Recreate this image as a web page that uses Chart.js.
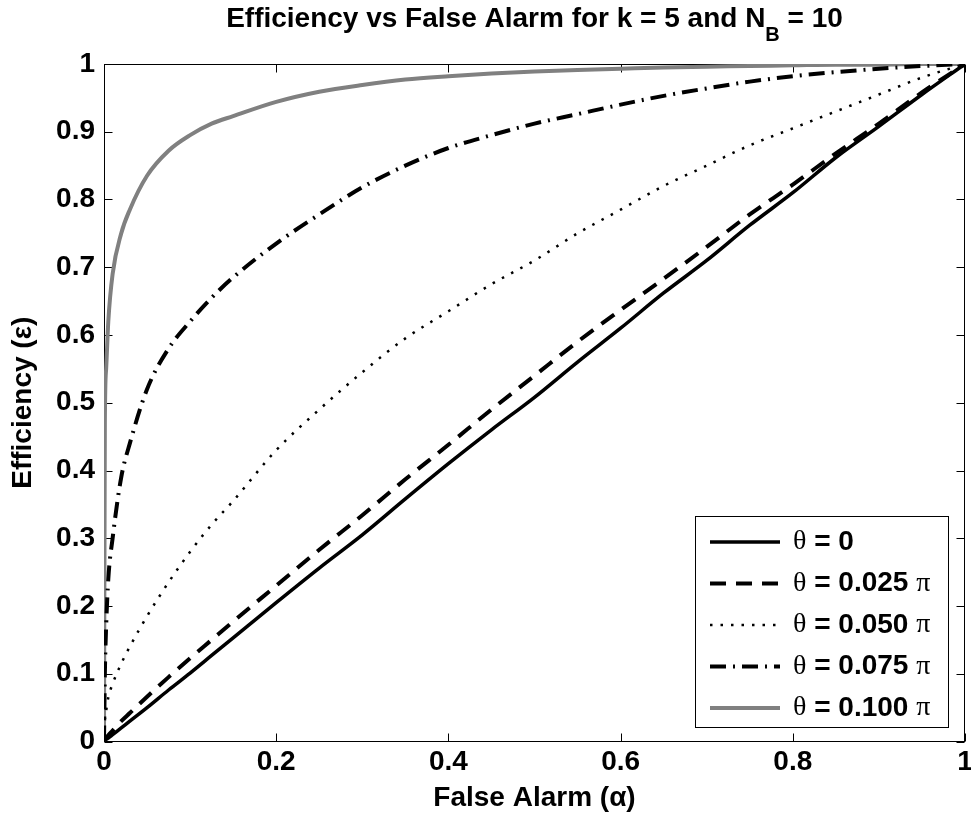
<!DOCTYPE html>
<html>
<head>
<meta charset="utf-8">
<script src="https://cdn.jsdelivr.net/npm/chart.js@4.4.0/dist/chart.umd.min.js"></script>
<style>
  body { margin: 0; background: #fff; }
</style>
</head>
<body>
<canvas id="effChart" width="971" height="820"></canvas>
<script>
// false alarm values (x) shared by every curve
var alpha = [0, 0.001, 0.0025, 0.005, 0.01, 0.02, 0.03, 0.05, 0.075, 0.1, 0.125, 0.15, 0.2, 0.25, 0.3,
  0.35, 0.4, 0.45, 0.5, 0.55, 0.6, 0.65, 0.7, 0.75, 0.8, 0.85, 0.9, 0.95, 1];

// efficiency, one list per theta
var effTheta000 = [0, 0.001, 0.003, 0.005, 0.01, 0.02, 0.03, 0.05, 0.076, 0.101, 0.127, 0.153, 0.205, 0.256, 0.305,
  0.358, 0.41, 0.46, 0.508, 0.56, 0.61, 0.662, 0.71, 0.762, 0.81, 0.862, 0.908, 0.955, 1];
var effTheta025 = [0, 0.002, 0.005, 0.009, 0.016, 0.03, 0.042, 0.066, 0.095, 0.123, 0.15, 0.177, 0.23, 0.283, 0.334,
  0.387, 0.438, 0.49, 0.54, 0.59, 0.637, 0.683, 0.73, 0.778, 0.822, 0.868, 0.912, 0.958, 1];
var effTheta050 = [0, 0.03, 0.045, 0.065, 0.085, 0.115, 0.14, 0.185, 0.235, 0.28, 0.32, 0.355, 0.43, 0.49, 0.545,
  0.595, 0.635, 0.675, 0.71, 0.75, 0.785, 0.82, 0.85, 0.88, 0.905, 0.93, 0.955, 0.98, 1];
var effTheta075 = [0, 0.1, 0.17, 0.24, 0.3, 0.39, 0.44, 0.52, 0.58, 0.62, 0.655, 0.685, 0.735, 0.778, 0.818,
  0.85, 0.876, 0.895, 0.912, 0.926, 0.94, 0.953, 0.964, 0.974, 0.982, 0.988, 0.993, 0.997, 1];
var effTheta100 = [0, 0.47, 0.55, 0.62, 0.69, 0.75, 0.785, 0.835, 0.872, 0.895, 0.912, 0.923, 0.944, 0.959, 0.969,
  0.977, 0.982, 0.986, 0.989, 0.991, 0.993, 0.995, 0.996, 0.997, 0.998, 0.999, 0.999, 1, 1];

var seriesNames = ['0', '0.025 \u03c0', '0.050 \u03c0', '0.075 \u03c0', '0.100 \u03c0'];

var FONT = '"Liberation Sans", Arial, sans-serif';

function toPoints(ys) {
  return alpha.map(function (a, i) { return { x: a, y: ys[i] }; });
}

function lineSet(label, ys, color, width, dash) {
  return {
    label: label,
    data: toPoints(ys),
    borderColor: color,
    borderWidth: width,
    borderDash: dash,
    pointRadius: 0,
    fill: false,
    showLine: true,
    cubicInterpolationMode: 'monotone'
  };
}

// "0", "0.2", ... "1" like matlab prints them
function tickText(v) {
  return String(parseFloat(Number(v).toFixed(1)));
}

// box + inward ticks on all four sides, like the original plot
var frame = {
  id: 'frame',
  beforeDatasetsDraw: function (chart) {
    var ctx = chart.ctx, a = chart.chartArea;
    var xs = chart.scales.x, ys = chart.scales.y;
    var L = Math.round(a.left) + 0.5, R = Math.round(a.right) - 0.5;
    var T = Math.round(a.top) + 0.5, B = Math.round(a.bottom) - 0.5;
    ctx.save();
    ctx.strokeStyle = '#000';
    ctx.lineWidth = 1;
    ctx.strokeRect(L, T, R - L, B - T);
    ctx.beginPath();
    xs.ticks.forEach(function (t) {
      var p = Math.round(xs.getPixelForValue(t.value)) + 0.5;
      ctx.moveTo(p, B); ctx.lineTo(p, B - 8);
      ctx.moveTo(p, T); ctx.lineTo(p, T + 8);
    });
    ys.ticks.forEach(function (t) {
      var p = Math.round(ys.getPixelForValue(t.value)) + 0.5;
      ctx.moveTo(L, p); ctx.lineTo(L + 8, p);
      ctx.moveTo(R, p); ctx.lineTo(R - 8, p);
    });
    ctx.stroke();
    ctx.restore();
  }
};

// title with subscript B
var titleSub = {
  id: 'titleSub',
  afterDraw: function (chart) {
    var ctx = chart.ctx, a = chart.chartArea;
    var p1 = 'Efficiency vs False Alarm for k = 5 and N', sub = 'B', p2 = ' = 10';
    ctx.save();
    ctx.fillStyle = '#000';
    ctx.textBaseline = 'alphabetic';
    ctx.font = 'bold 28px ' + FONT;
    var w1 = ctx.measureText(p1).width, w3 = ctx.measureText(p2).width;
    ctx.font = 'bold 20px ' + FONT;
    var w2 = ctx.measureText(sub).width;
    var x = (a.left + a.right) / 2 - (w1 + w2 + w3) / 2;
    ctx.font = 'bold 28px ' + FONT;
    ctx.fillText(p1, x, 27);
    ctx.font = 'bold 20px ' + FONT;
    ctx.fillText(sub, x + w1, 41);
    ctx.font = 'bold 28px ' + FONT;
    ctx.fillText(p2, x + w1 + w2, 27);
    ctx.restore();
  }
};

// legend box in the lower right corner
var boxLegend = {
  id: 'boxLegend',
  afterDraw: function (chart) {
    var ctx = chart.ctx;
    var bx = 695, by = 516, bw = 253, bh = 211;
    ctx.save();
    ctx.fillStyle = '#fff';
    ctx.fillRect(bx, by, bw, bh);
    ctx.strokeStyle = '#000';
    ctx.lineWidth = 1;
    ctx.strokeRect(bx + 0.5, by + 0.5, bw, bh);
    chart.data.datasets.forEach(function (ds, i) {
      var y = by + 26 + i * 41.5;
      ctx.beginPath();
      ctx.strokeStyle = ds.borderColor;
      ctx.lineWidth = ds.borderWidth;
      ctx.setLineDash(ds.borderDash || []);
      ctx.moveTo(710, y);
      ctx.lineTo(780, y);
      ctx.stroke();
      ctx.setLineDash([]);
      ctx.fillStyle = '#000';
      ctx.textBaseline = 'middle';
      var x = 793;
      ctx.font = '28px "Liberation Serif", serif';
      ctx.fillText('\u03b8', x, y);
      x += ctx.measureText('\u03b8').width;
      var rest = ' = ' + seriesNames[i];
      var hasPi = rest.indexOf('\u03c0') >= 0;
      var txt = hasPi ? rest.replace(' \u03c0', ' ') : rest;
      ctx.font = 'bold 28px ' + FONT;
      ctx.fillText(txt, x, y);
      if (hasPi) {
        x += ctx.measureText(txt).width;
        ctx.font = '28px "Liberation Serif", serif';
        ctx.fillText('\u03c0', x, y);
      }
    });
    ctx.restore();
  }
};

var ctx = document.getElementById('effChart').getContext('2d');
var effChart = new Chart(ctx, {
  type: 'scatter',
  data: {
    datasets: [
      lineSet('\u03b8 = 0', effTheta000, '#000000', 3.5, []),
      lineSet('\u03b8 = 0.025 \u03c0', effTheta025, '#000000', 4, [16, 10]),
      lineSet('\u03b8 = 0.050 \u03c0', effTheta050, '#000000', 2.5, [2.5, 8]),
      lineSet('\u03b8 = 0.075 \u03c0', effTheta075, '#000000', 4, [16, 7, 2, 7]),
      lineSet('\u03b8 = 0.100 \u03c0', effTheta100, '#808080', 4, [])
    ]
  },
  options: {
    responsive: false,
    animation: false,
    devicePixelRatio: 1,
    layout: { padding: { top: 64, right: 0, bottom: 0, left: 0 } },
    plugins: {
      legend: { display: false },
      title: { display: false },
      tooltip: { enabled: false }
    },
    scales: {
      x: {
        type: 'linear',
        min: 0,
        max: 1,
        grid: { display: false, drawTicks: false },
        border: { display: false },
        ticks: { stepSize: 0.2, color: '#000', padding: 4, maxRotation: 0,
          callback: tickText,
          font: { family: FONT, size: 28, weight: 'bold' } },
        title: { display: true, text: 'False Alarm (\u03b1)', color: '#000',
          padding: { top: 0, bottom: 5 },
          font: { family: FONT, size: 28, weight: 'bold' } },
        afterFit: function (s) { s.height = 78.5; s.paddingRight = 6; }
      },
      y: {
        type: 'linear',
        min: 0,
        max: 1,
        grid: { display: false, drawTicks: false },
        border: { display: false },
        ticks: { stepSize: 0.1, color: '#000', padding: 9,
          callback: tickText,
          font: { family: FONT, size: 28, weight: 'bold' } },
        title: { display: true, text: 'Efficiency (\u03b5)', color: '#000',
          padding: { top: 6, bottom: 0 },
          font: { family: FONT, size: 28, weight: 'bold' } },
        afterFit: function (s) { s.width = 104; }
      }
    }
  },
  plugins: [frame, titleSub, boxLegend]
});
</script>
</body>
</html>
